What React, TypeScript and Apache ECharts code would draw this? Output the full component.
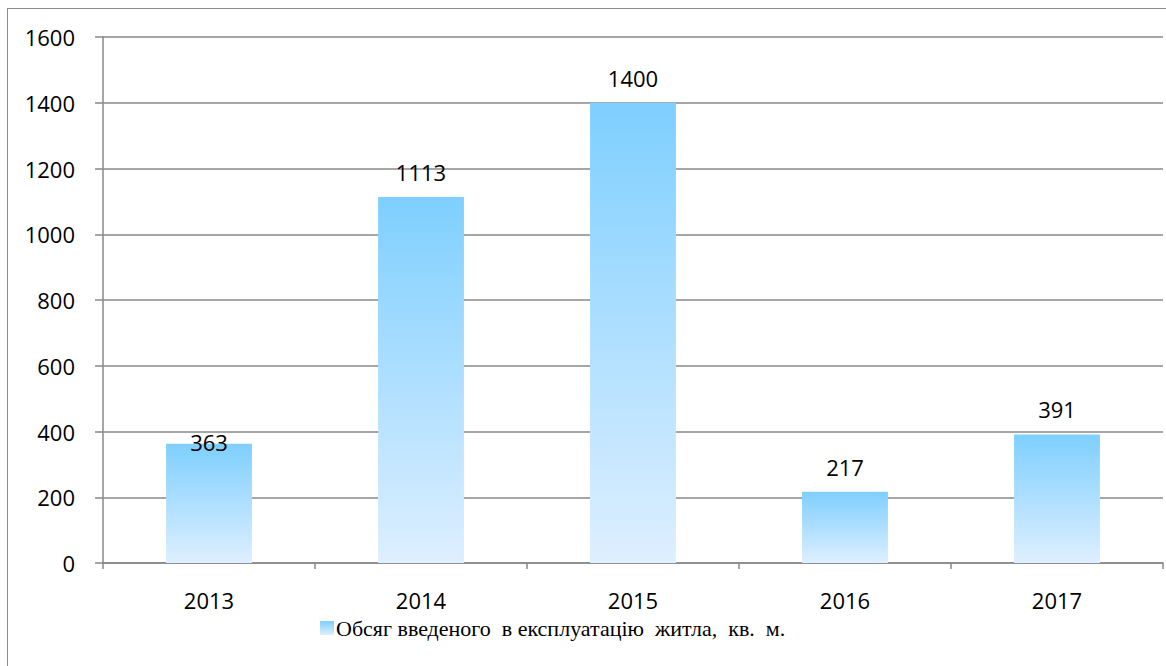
import React, { useEffect, useRef } from "react";
import * as echarts from "echarts";

const categories = ["2013", "2014", "2015", "2016", "2017"];
const values = [363, 1113, 1400, 217, 391];
const seriesName = "Обсяг введеного  в експлуатацію  житла,  кв.  м.";
const yTicks = { min: 0, max: 1600, interval: 200 };

export default function App() {
  const ref = useRef<HTMLDivElement>(null);
  useEffect(() => {
    if (!ref.current) return;
    const chart = echarts.init(ref.current, null, { renderer: "svg" });
    const grad = new echarts.graphic.LinearGradient(0, 0, 0, 1, [
      { offset: 0, color: "#7ecfff" },
      { offset: 1, color: "#deefff" },
    ]);
    const font = "'Open Sans', sans-serif";
    chart.setOption({
      animation: false,
      grid: { left: 103, top: 37, right: 3, bottom: 103, containLabel: false },
      legend: {
        left: 320,
        top: 617,
        padding: 0,
        itemWidth: 14,
        itemHeight: 14,
        itemGap: 10,
        icon: "rect",
        textStyle: {
          fontFamily: "'Liberation Serif', 'Times New Roman', serif",
          fontSize: 22,
          lineHeight: 18,
          color: "#000",
          padding: [0, 0, 0, -3],
        },
        data: [{ name: seriesName, itemStyle: { color: grad } }],
      },
      xAxis: {
        type: "category",
        data: categories,
        boundaryGap: true,
        axisLine: { lineStyle: { color: "#888", width: 1.5 } },
        axisTick: { show: true, length: 6, lineStyle: { color: "#888", width: 1.5 } },
        axisLabel: {
          margin: 28,
          fontFamily: font,
          fontSize: 22,
          lineHeight: 18,
          color: "#000",
        },
      },
      yAxis: {
        type: "value",
        min: yTicks.min,
        max: yTicks.max,
        interval: yTicks.interval,
        axisLine: { show: true, lineStyle: { color: "#888", width: 1.5 } },
        axisTick: { show: true, length: 8, lineStyle: { color: "#888", width: 1.5 } },
        splitLine: { show: true, lineStyle: { color: "#888", width: 1.5 } },
        axisLabel: {
          margin: 28,
          fontFamily: font,
          fontSize: 22,
          color: "#000",
          formatter: (v: number) => String(v),
        },
      },
      series: [
        {
          name: seriesName,
          type: "bar",
          barWidth: "40.5%",
          itemStyle: { color: grad },
          label: {
            show: true,
            position: "top",
            distance: 14,
            fontFamily: font,
            fontSize: 22,
            color: "#000",
          },
          data: values.map((v, i) =>
            i === 0
              ? { value: v, label: { position: "top", distance: -9 } }
              : v
          ),
        },
      ],
    });
    return () => chart.dispose();
  }, []);
  return (
    <div
      style={{
        position: "fixed",
        left: 0,
        top: 0,
        width: 1166,
        height: 666,
        overflow: "hidden",
        background: "#fff",
      }}
    >
      <div
        style={{
          position: "absolute",
          left: 7,
          top: 8,
          width: 1200,
          height: 700,
          border: "1px solid #8c8c8c",
          boxSizing: "border-box",
        }}
      />
      <div
        ref={ref}
        style={{ position: "absolute", left: 0, top: 0, width: 1166, height: 666 }}
      />
    </div>
  );
}
